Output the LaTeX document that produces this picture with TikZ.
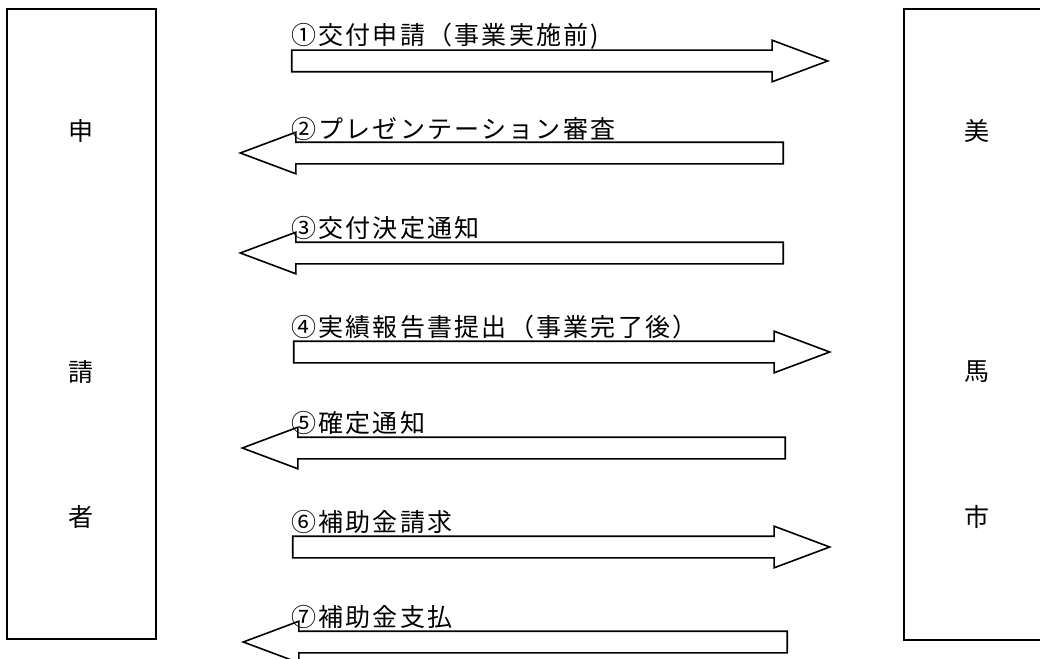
\documentclass[tikz,border=0pt]{standalone}
\usepackage{fontspec}
\usetikzlibrary{shapes.arrows}
\newfontfamily\jp[LetterSpace=9]{Noto Sans CJK JP}
\tikzset{
  party/.style={draw, line width=2.2pt, inner sep=0pt},
  pch/.style={font=\jp\fontsize{25}{28}\selectfont, inner sep=0pt},
  lbl/.style={font=\jp\fontsize{25}{28}\selectfont, inner sep=0pt, anchor=base west},
  blk/.style={single arrow, draw, line width=1.6pt, inner xsep=0pt, inner ysep=10pt,
    single arrow head extend=10pt, single arrow tip angle=41, single arrow head indent=0pt,
    anchor=tip, minimum height=#1},
  toleft/.style={shape border rotate=180}
}
\begin{document}
\begin{tikzpicture}[x=1pt,y=-1pt]
\useasboundingbox (0,0) rectangle (1040,658);
\fill[white] (0,0) rectangle (1040,658);
% parties
\node[party, minimum width=149pt, minimum height=630pt] (applicant) at (81.5,324) {};
\node[party, minimum width=148pt, minimum height=631pt] (city) at (978,324.5) {};
\node[pch] (p1) at (81,131) {申};
\node[pch] (p2) at (81,372) {請};
\node[pch] (p3) at (81,517) {者};
\node[pch] (c1) at (977,131) {美};
\node[pch] (c2) at (977,372) {馬};
\node[pch] (c3) at (977,517) {市};
% block arrows
\node[blk=536pt] (a1) at (830,61) {};
\node[blk=543pt, toleft] (a2) at (238,153) {};
\node[blk=543pt, toleft] (a3) at (238,253) {};
\node[blk=536pt] (a4) at (832,352) {};
\node[blk=543pt, toleft] (a5) at (240,448) {};
\node[blk=537pt] (a6) at (832,547) {};
\node[blk=544pt, toleft] (a7) at (241,642) {};
% labels
\node[lbl] (l1) at (291,45) {①交付申請（事業実施前)};
\node[lbl] (l2) at (291,139) {②プレゼンテーション審査};
\node[lbl] (l3) at (291,237) {③交付決定通知};
\node[lbl] (l4) at (291,336) {④実績報告書提出（事業完了後）};
\node[lbl] (l5) at (291,432) {⑤確定通知};
\node[lbl] (l6) at (291,531) {⑥補助金請求};
\node[lbl] (l7) at (291,626) {⑦補助金支払};
\end{tikzpicture}
\end{document}
